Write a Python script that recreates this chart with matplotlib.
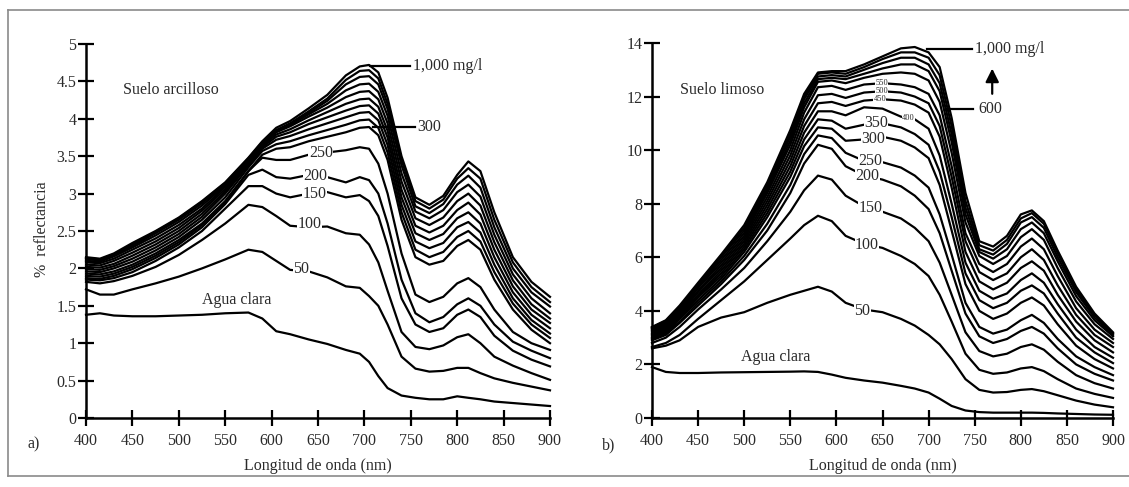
import matplotlib
matplotlib.use("Agg")
import matplotlib.pyplot as plt
from matplotlib.lines import Line2D

plt.rcParams['font.family'] = ['Liberation Serif', 'DejaVu Serif']

# ---- panel a) suelo arcilloso ----
wl_a = [400, 415, 430, 450, 475, 500, 525, 550, 575, 590, 605, 620, 640, 660, 680,
        695, 705, 715, 725, 740, 755, 770, 785, 800, 812, 825, 840, 860, 880, 900]

a_agua = [1.38, 1.40, 1.37, 1.36, 1.36, 1.37, 1.38, 1.40, 1.41, 1.33, 1.16, 1.12, 1.05, 0.99, 0.91,
          0.86, 0.75, 0.56, 0.40, 0.30, 0.27, 0.25, 0.25, 0.29, 0.27, 0.25, 0.22, 0.20, 0.18, 0.16]
a_50 = [1.72, 1.65, 1.65, 1.72, 1.80, 1.89, 2.00, 2.12, 2.25, 2.22, 2.10, 1.98, 1.96, 1.88, 1.76,
        1.74, 1.63, 1.50, 1.25, 0.82, 0.66, 0.62, 0.63, 0.67, 0.67, 0.60, 0.53, 0.47, 0.42, 0.37]
a_100 = [1.82, 1.80, 1.83, 1.90, 2.02, 2.18, 2.38, 2.60, 2.85, 2.82, 2.70, 2.57, 2.55, 2.56, 2.47,
         2.45, 2.32, 2.08, 1.70, 1.15, 0.95, 0.92, 0.97, 1.08, 1.12, 1.00, 0.82, 0.70, 0.60, 0.51]
a_150 = [1.85, 1.84, 1.87, 1.95, 2.10, 2.28, 2.50, 2.80, 3.10, 3.10, 3.00, 2.95, 3.00, 3.02, 2.95,
         2.98, 2.90, 2.70, 2.30, 1.60, 1.25, 1.15, 1.20, 1.38, 1.45, 1.35, 1.10, 0.90, 0.78, 0.69]
a_200 = [1.87, 1.86, 1.90, 1.99, 2.14, 2.32, 2.55, 2.86, 3.25, 3.32, 3.22, 3.20, 3.25, 3.22, 3.15,
         3.22, 3.18, 3.00, 2.60, 1.85, 1.40, 1.28, 1.35, 1.52, 1.60, 1.50, 1.25, 1.02, 0.90, 0.80]
a_250 = [1.90, 1.89, 1.93, 2.02, 2.17, 2.35, 2.58, 2.88, 3.30, 3.48, 3.45, 3.45, 3.52, 3.55, 3.58,
         3.62, 3.60, 3.40, 3.00, 2.20, 1.65, 1.55, 1.62, 1.80, 1.87, 1.75, 1.45, 1.15, 1.00, 0.91]
a_300 = [1.93, 1.92, 1.96, 2.05, 2.20, 2.38, 2.60, 2.90, 3.30, 3.52, 3.60, 3.62, 3.70, 3.76, 3.82,
         3.88, 3.89, 3.78, 3.45, 2.65, 2.15, 2.05, 2.10, 2.30, 2.38, 2.25, 1.85, 1.45, 1.18, 1.00]
a_350 = [1.96, 1.95, 2.00, 2.09, 2.24, 2.42, 2.65, 2.95, 3.35, 3.57, 3.66, 3.70, 3.78, 3.85, 3.92,
         3.98, 3.99, 3.88, 3.55, 2.75, 2.25, 2.15, 2.22, 2.42, 2.50, 2.36, 1.95, 1.53, 1.25, 1.07]
a_400 = [1.99, 1.98, 2.03, 2.13, 2.28, 2.46, 2.69, 3.00, 3.38, 3.60, 3.72, 3.77, 3.86, 3.94, 4.02,
         4.08, 4.09, 3.98, 3.65, 2.85, 2.36, 2.27, 2.34, 2.55, 2.62, 2.48, 2.05, 1.60, 1.31, 1.13]
a_450 = [2.02, 2.01, 2.06, 2.17, 2.32, 2.50, 2.73, 3.03, 3.40, 3.62, 3.76, 3.82, 3.93, 4.02, 4.11,
         4.17, 4.18, 4.07, 3.75, 2.95, 2.47, 2.38, 2.46, 2.67, 2.75, 2.60, 2.15, 1.68, 1.38, 1.20]
a_500 = [2.05, 2.04, 2.10, 2.21, 2.36, 2.54, 2.77, 3.06, 3.42, 3.64, 3.79, 3.86, 3.98, 4.09, 4.20,
         4.26, 4.27, 4.16, 3.84, 3.05, 2.57, 2.48, 2.57, 2.78, 2.88, 2.72, 2.25, 1.76, 1.45, 1.27]
a_600 = [2.08, 2.07, 2.13, 2.25, 2.40, 2.58, 2.80, 3.09, 3.44, 3.66, 3.82, 3.90, 4.03, 4.15, 4.29,
         4.36, 4.37, 4.26, 3.94, 3.16, 2.67, 2.58, 2.68, 2.90, 3.00, 2.84, 2.35, 1.84, 1.52, 1.33]
a_700 = [2.10, 2.09, 2.16, 2.28, 2.44, 2.62, 2.84, 3.11, 3.45, 3.67, 3.83, 3.92, 4.06, 4.20, 4.38,
         4.46, 4.47, 4.36, 4.04, 3.27, 2.76, 2.67, 2.78, 3.02, 3.12, 2.96, 2.45, 1.92, 1.60, 1.40]
a_800 = [2.12, 2.11, 2.18, 2.30, 2.47, 2.65, 2.87, 3.13, 3.46, 3.68, 3.84, 3.93, 4.08, 4.24, 4.46,
         4.56, 4.57, 4.46, 4.13, 3.38, 2.83, 2.74, 2.86, 3.12, 3.24, 3.08, 2.55, 2.00, 1.68, 1.49]
a_900 = [2.14, 2.12, 2.19, 2.32, 2.49, 2.67, 2.89, 3.14, 3.47, 3.69, 3.85, 3.94, 4.10, 4.27, 4.52,
         4.64, 4.65, 4.54, 4.20, 3.45, 2.90, 2.80, 2.92, 3.20, 3.34, 3.20, 2.65, 2.08, 1.75, 1.55]
a_1000 = [2.15, 2.13, 2.20, 2.34, 2.50, 2.68, 2.90, 3.15, 3.48, 3.70, 3.88, 3.97, 4.14, 4.32, 4.58,
          4.70, 4.72, 4.62, 4.28, 3.50, 2.95, 2.85, 2.97, 3.25, 3.43, 3.30, 2.75, 2.15, 1.82, 1.62]

# ---- panel b) suelo limoso ----
wl_b = [400, 415, 430, 450, 475, 500, 525, 550, 565, 580, 595, 610, 630, 650, 670,
        685, 700, 712, 725, 740, 755, 770, 785, 800, 812, 825, 840, 860, 880, 900]

b_agua = [1.90, 1.72, 1.68, 1.68, 1.70, 1.71, 1.72, 1.73, 1.74, 1.72, 1.62, 1.50, 1.40, 1.32, 1.20,
          1.10, 0.95, 0.72, 0.45, 0.28, 0.22, 0.20, 0.20, 0.20, 0.20, 0.19, 0.17, 0.15, 0.13, 0.12]
b_50 = [2.60, 2.70, 2.90, 3.40, 3.75, 3.95, 4.30, 4.60, 4.75, 4.90, 4.72, 4.30, 4.05, 3.95, 3.70,
        3.45, 3.10, 2.75, 2.20, 1.45, 1.05, 0.95, 0.97, 1.05, 1.08, 1.00, 0.85, 0.65, 0.50, 0.40]
b_100 = [2.65, 2.80, 3.10, 3.70, 4.40, 5.10, 5.90, 6.70, 7.20, 7.55, 7.35, 6.80, 6.50, 6.35, 6.05,
         5.75, 5.30, 4.60, 3.60, 2.40, 1.80, 1.65, 1.70, 1.85, 1.90, 1.75, 1.45, 1.10, 0.90, 0.75]
b_150 = [2.80, 3.00, 3.40, 4.05, 4.80, 5.60, 6.60, 7.70, 8.50, 9.05, 8.90, 8.30, 7.90, 7.70, 7.45,
         7.10, 6.60, 5.80, 4.60, 3.20, 2.50, 2.30, 2.40, 2.65, 2.75, 2.55, 2.10, 1.60, 1.30, 1.10]
b_200 = [2.90, 3.10, 3.55, 4.20, 5.00, 5.90, 7.00, 8.40, 9.50, 10.20, 10.05, 9.40, 9.05, 8.90, 8.65,
         8.30, 7.80, 6.90, 5.50, 3.90, 3.05, 2.80, 2.95, 3.25, 3.40, 3.15, 2.60, 2.00, 1.65, 1.40]
b_250 = [2.95, 3.15, 3.60, 4.30, 5.10, 6.05, 7.25, 8.70, 9.85, 10.55, 10.45, 9.90, 9.60, 9.55, 9.35,
         9.05, 8.60, 7.60, 6.10, 4.30, 3.40, 3.15, 3.30, 3.65, 3.85, 3.55, 2.95, 2.30, 1.90, 1.60]
b_300 = [3.00, 3.20, 3.70, 4.40, 5.20, 6.20, 7.50, 9.00, 10.15, 10.85, 10.80, 10.35, 10.40, 10.50, 10.35,
         10.10, 9.70, 8.70, 7.00, 5.00, 4.00, 3.70, 3.90, 4.30, 4.50, 4.20, 3.50, 2.70, 2.20, 1.85]
b_350 = [3.05, 3.25, 3.75, 4.50, 5.30, 6.30, 7.65, 9.20, 10.40, 11.15, 11.10, 10.80, 10.95, 11.00, 10.85,
         10.60, 10.20, 9.20, 7.50, 5.40, 4.40, 4.10, 4.30, 4.75, 4.95, 4.65, 3.90, 3.00, 2.45, 2.05]
b_400 = [3.10, 3.30, 3.80, 4.55, 5.40, 6.40, 7.80, 9.40, 10.65, 11.45, 11.45, 11.30, 11.60, 11.55, 11.25,
         11.15, 10.80, 9.80, 8.00, 5.80, 4.75, 4.45, 4.65, 5.15, 5.40, 5.05, 4.25, 3.30, 2.65, 2.25]
b_450 = [3.15, 3.35, 3.85, 4.60, 5.50, 6.50, 7.95, 9.60, 10.90, 11.75, 11.80, 11.65, 11.85, 11.90, 11.85,
         11.70, 11.40, 10.50, 8.60, 6.20, 5.10, 4.80, 5.05, 5.60, 5.85, 5.50, 4.60, 3.60, 2.90, 2.45]
b_500 = [3.20, 3.40, 3.90, 4.70, 5.60, 6.60, 8.10, 9.80, 11.15, 12.05, 12.10, 11.95, 12.15, 12.20, 12.15,
         12.00, 11.75, 10.90, 9.00, 6.60, 5.45, 5.15, 5.40, 6.00, 6.30, 5.90, 4.95, 3.85, 3.10, 2.65]
b_550 = [3.25, 3.45, 3.95, 4.75, 5.70, 6.70, 8.25, 10.00, 11.40, 12.35, 12.40, 12.25, 12.45, 12.50, 12.45,
         12.35, 12.10, 11.30, 9.40, 6.90, 5.75, 5.45, 5.75, 6.40, 6.70, 6.30, 5.30, 4.10, 3.30, 2.80]
b_600 = [3.30, 3.50, 4.00, 4.85, 5.80, 6.80, 8.40, 10.20, 11.60, 12.55, 12.60, 12.50, 12.70, 12.85, 12.90,
         12.85, 12.60, 11.80, 9.90, 7.30, 6.05, 5.75, 6.05, 6.75, 7.05, 6.65, 5.60, 4.35, 3.50, 2.95]
b_700 = [3.33, 3.55, 4.05, 4.90, 5.90, 6.90, 8.50, 10.35, 11.75, 12.65, 12.70, 12.65, 12.85, 13.05, 13.20,
         13.20, 12.95, 12.20, 10.30, 7.60, 6.20, 5.95, 6.30, 7.05, 7.30, 6.90, 5.85, 4.55, 3.65, 3.05]
b_800 = [3.36, 3.60, 4.10, 4.95, 6.00, 7.00, 8.60, 10.50, 11.90, 12.75, 12.80, 12.75, 13.00, 13.25, 13.45,
         13.45, 13.20, 12.50, 10.60, 7.85, 6.30, 6.10, 6.50, 7.30, 7.50, 7.10, 6.00, 4.70, 3.75, 3.10]
b_900 = [3.38, 3.62, 4.15, 5.00, 6.05, 7.10, 8.70, 10.60, 12.00, 12.85, 12.90, 12.85, 13.10, 13.40, 13.65,
         13.65, 13.45, 12.80, 10.90, 8.10, 6.45, 6.25, 6.65, 7.45, 7.65, 7.25, 6.15, 4.80, 3.85, 3.15]
b_1000 = [3.40, 3.65, 4.20, 5.05, 6.10, 7.20, 8.80, 10.75, 12.10, 12.90, 12.95, 12.95, 13.20, 13.50, 13.80,
          13.85, 13.65, 13.10, 11.20, 8.40, 6.60, 6.40, 6.80, 7.60, 7.75, 7.35, 6.25, 4.90, 3.90, 3.20]

curves_a = [a_agua, a_50, a_100, a_150, a_200, a_250, a_300, a_350, a_400, a_450,
            a_500, a_600, a_700, a_800, a_900, a_1000]
curves_b = [b_agua, b_50, b_100, b_150, b_200, b_250, b_300, b_350, b_400, b_450,
            b_500, b_550, b_600, b_700, b_800, b_900, b_1000]

xticks = [400, 450, 500, 550, 600, 650, 700, 750, 800, 850, 900]
yticks_a = [0, 0.5, 1, 1.5, 2, 2.5, 3, 3.5, 4, 4.5, 5]
yticks_a_lbl = ['0', '0.5', '1', '1.5', '2', '2.5', '3', '3.5', '4', '4.5', '5']
yticks_b = [0, 2, 4, 6, 8, 10, 12, 14]

FS = 11.5
TXT = '#2a2a2a'

W, H = 1129, 487
fig = plt.figure(figsize=(W / 100, H / 100), dpi=100)

ax1 = fig.add_axes([86 / W, 1 - 418 / H, 464 / W, 374 / H])
ax2 = fig.add_axes([652 / W, 1 - 418 / H, 461 / W, 375 / H])


def style(ax, ymax, yticks, ylabels):
    ax.set_xlim(400, 900)
    ax.set_ylim(0, ymax)
    for s in ['top', 'right']:
        ax.spines[s].set_visible(False)
    for s in ['left', 'bottom']:
        ax.spines[s].set_linewidth(1.8)
    ax.set_xticks(xticks)
    ax.set_yticks(yticks)
    ax.set_yticklabels(ylabels)
    ax.tick_params(direction='inout', length=12, width=1.6, labelsize=FS,
                   labelcolor=TXT)
    ax.tick_params(axis='x', pad=5)
    ax.tick_params(axis='y', pad=1)
    ax.set_xlabel('Longitud de onda (nm)', fontsize=FS, color=TXT, labelpad=6)


for c in curves_a:
    ax1.plot(wl_a, c, color='black', lw=1.6, solid_joinstyle='round', clip_on=False)
for c in curves_b:
    ax2.plot(wl_b, c, color='black', lw=1.6, solid_joinstyle='round', clip_on=False)

style(ax1, 5, yticks_a, yticks_a_lbl)
style(ax2, 14, yticks_b, [str(t) for t in yticks_b])

lbl = dict(fontsize=FS, color=TXT, ha='center', va='center',
           bbox=dict(facecolor='white', edgecolor='none', pad=0.2), zorder=5)
small = dict(fontsize=6, color=TXT, ha='center', va='center',
             bbox=dict(facecolor='white', edgecolor='none', pad=0.0), zorder=6)

# panel a labels
ax1.text(440, 4.39, 'Suelo arcilloso', fontsize=FS, color=TXT, va='center')
ax1.text(562, 1.58, 'Agua clara', fontsize=FS, color=TXT, ha='center', va='center')
for x, y, t in [(632, 1.99, '50'), (641, 2.60, '100'), (646, 3.0, '150'),
                (647, 3.24, '200'), (653, 3.54, '250')]:
    ax1.text(x, y, t, **lbl)
ax1.plot([706, 749], [4.70, 4.70], color='black', lw=1.6)
ax1.text(752, 4.70, '1,000 mg/l', fontsize=FS, color=TXT, va='center')
ax1.plot([709, 754], [3.89, 3.89], color='black', lw=1.6)
ax1.text(757, 3.89, '300', fontsize=FS, color=TXT, va='center')

# panel b labels
ax2.text(430, 12.24, 'Suelo limoso', fontsize=FS, color=TXT, va='center')
ax2.text(534, 2.28, 'Agua clara', fontsize=FS, color=TXT, ha='center', va='center')
for x, y, t in [(628, 4.0, '50'), (633, 6.45, '100'), (637, 7.84, '150'),
                (634, 9.03, '200'), (637, 9.6, '250'), (640, 10.42, '300'), (643, 11.0, '350')]:
    ax2.text(x, y, t, **lbl)
for x, y, t in [(647, 11.9, '450'), (649, 12.22, '500'), (649, 12.52, '550'), (678, 11.2, '400')]:
    ax2.text(x, y, t, **small)
ax2.plot([698, 747], [13.77, 13.77], color='black', lw=1.6)
ax2.text(750, 13.77, '1,000 mg/l', fontsize=FS, color=TXT, va='center')
ax2.plot([720, 748], [11.53, 11.53], color='black', lw=1.6)
ax2.text(754, 11.53, '600', fontsize=FS, color=TXT, va='center')
ax2.annotate('', xy=(769, 13.15), xytext=(769, 12.0),
             arrowprops=dict(arrowstyle='-|>,head_width=0.4,head_length=0.8', color='black', lw=1.6))

fig.text(42 / W, 1 - 229 / H, '%  reflectancia', rotation=90, fontsize=FS,
         color=TXT, ha='center', va='center')
fig.text(34 / W, 1 - 444 / H, 'a)', fontsize=FS, color=TXT, ha='center', va='center')
fig.text(609 / W, 1 - 445 / H, 'b)', fontsize=FS, color=TXT, ha='center', va='center')

# thin grey frame
for xs, ys in [([8, 8], [10, 476]), ([8, W], [10, 10]), ([8, W], [476, 476])]:
    fig.add_artist(Line2D([x / W for x in xs], [1 - y / H for y in ys],
                          color='#8a8a8a', lw=1.2))

fig.savefig('out.png', dpi=100)
